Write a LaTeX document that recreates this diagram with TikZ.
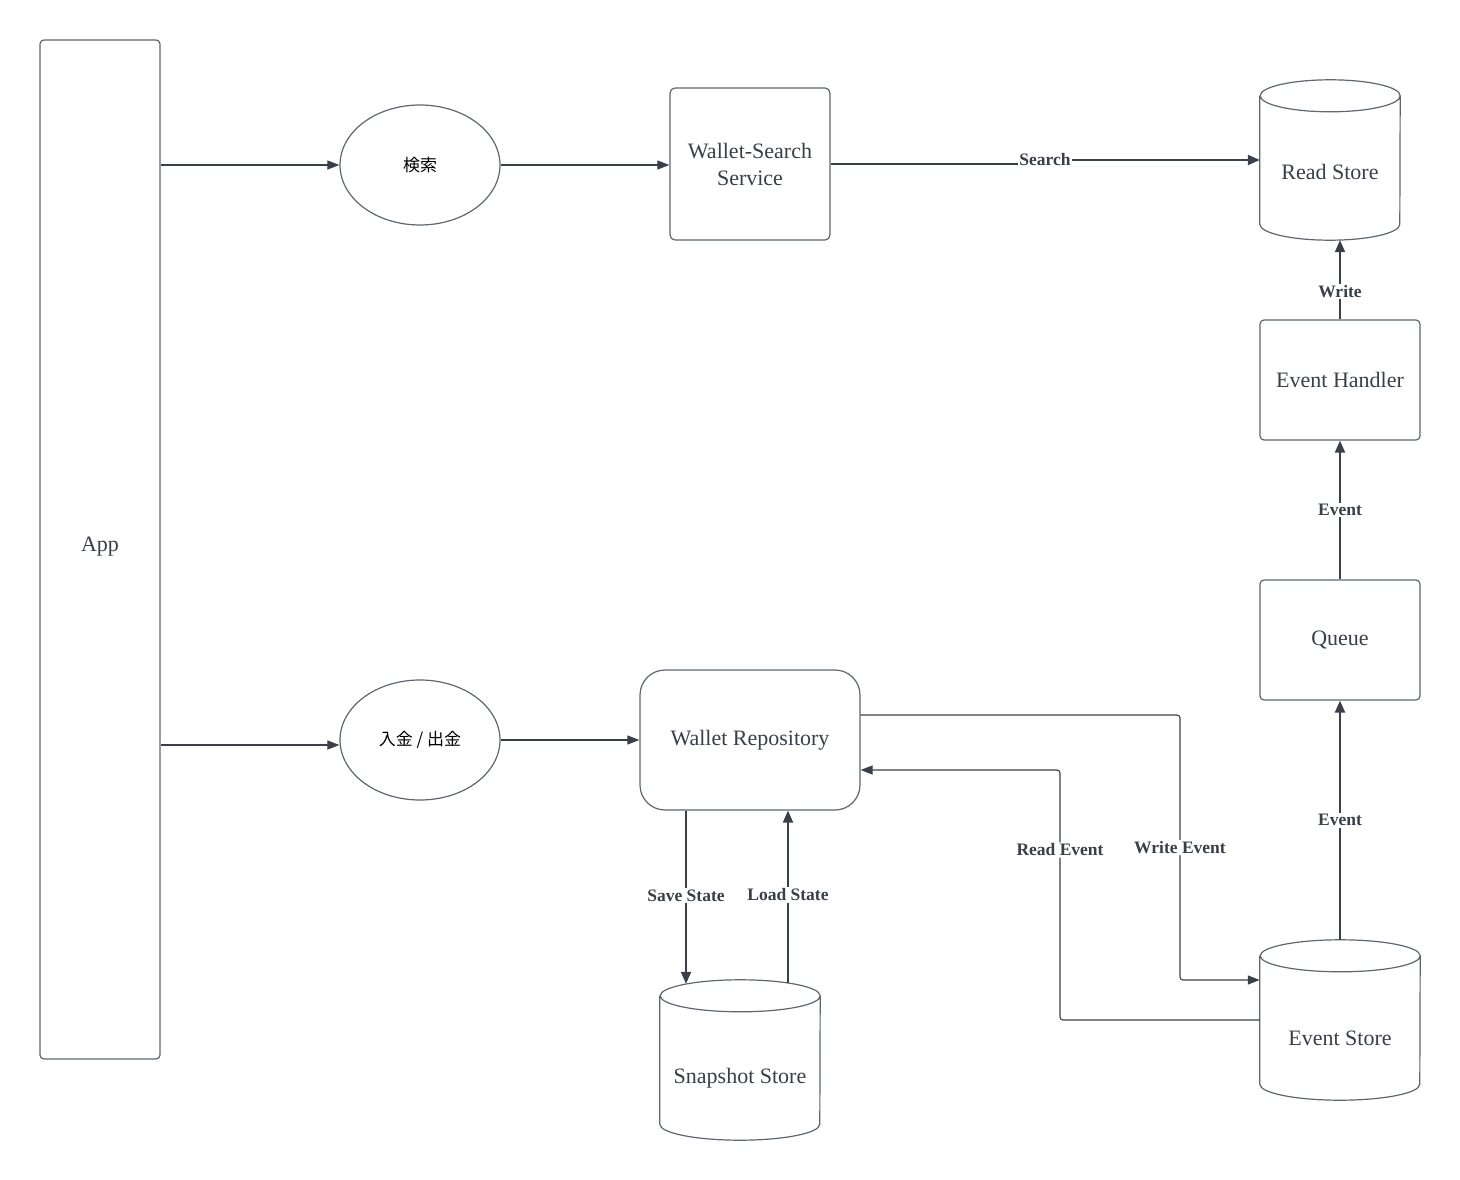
\documentclass[tikz,border=0pt]{standalone}
\usepackage{fontspec}
\setmainfont{Liberation Serif}
\newfontfamily\cjk{Noto Sans CJK JP}
\usetikzlibrary{arrows.meta,shapes.geometric,calc}
\definecolor{ln}{HTML}{3A4049}
\definecolor{bx}{HTML}{5F6670}
\definecolor{tx}{HTML}{3A3F47}
\newcommand\cylout[3]{%
  \draw[cylline] ([yshift=-#3]#1.north west) -- ([yshift=#3]#1.south west)
    arc[start angle=180,end angle=360,x radius=#2,y radius=#3]
    -- ([yshift=-#3]#1.north east)
    arc[start angle=0,end angle=180,x radius=#2,y radius=#3]
    arc[start angle=180,end angle=360,x radius=#2,y radius=#3];}
\begin{document}
\begin{tikzpicture}[x=1pt,y=-1pt,
  box/.style={draw=bx, line width=1.2pt, fill=white, inner sep=0pt,
    font=\fontsize{22}{27}\selectfont, text=tx, align=center},
  ell/.style={ellipse, draw=bx, line width=1.2pt, fill=white, inner sep=0pt,
    font=\cjk\fontsize{17}{20}\selectfont, text=black},
  cylnode/.style={inner sep=0pt},
  cylline/.style={draw=bx, line width=1.2pt, fill=white},
  cyltext/.style={font=\fontsize{22}{27}\selectfont, text=tx, inner sep=0pt},
  thinconn/.style={draw=ln, line width=1.1pt, -{Triangle[length=12pt,width=9pt]}},
  thickconn/.style={draw=ln, line width=2pt, -{Triangle[length=12pt,width=10pt]}},
  lbl/.style={fill=white, font=\bfseries\fontsize{17.5}{20}\selectfont, text=tx, inner sep=1.5pt}
]
\useasboundingbox (0,0) rectangle (1460,1180);

% nodes
\node[box, rounded corners=4pt, minimum width=120, minimum height=1019] (app) at (100,549.5) {};
\node[cyltext] (appt) at (100,547) {App};
\node[ell, minimum width=160, minimum height=120] (srch) at (420,165) {検索};
\node[box, rounded corners=5pt, minimum width=160, minimum height=152] (wss) at (750,164) {Wallet-Search\\Service};
\node[cylnode, minimum width=140, minimum height=160] (rs) at (1330,160) {};
\cylout{rs}{70pt}{16pt}
\node[cyltext] (rst) at (1330,172) {Read Store};
\node[box, rounded corners=4pt, minimum width=160, minimum height=120] (eh) at (1340,380) {Event Handler};
\node[box, rounded corners=4pt, minimum width=160, minimum height=120] (q) at (1340,640) {Queue};
\node[ell, minimum width=160, minimum height=120] (dep) at (420,740) {入金 / 出金};
\node[box, rounded corners=25pt, minimum width=220, minimum height=140] (wr) at (750,740) {Wallet Repository};
\node[cylnode, minimum width=160, minimum height=160] (ss) at (740,1060) {};
\cylout{ss}{80pt}{16pt}
\node[cyltext] (sst) at (740,1078) {Snapshot Store};
\node[cylnode, minimum width=160, minimum height=160] (es) at (1340,1020) {};
\cylout{es}{80pt}{16pt}
\node[cyltext] (est) at (1340,1038) {Event Store};

% connectors
\draw[thinconn] (app.east |- srch.west) -- (srch.west);
\draw[thinconn] (srch.east) -- (wss.west |- srch.east);
\draw[thickconn] (wss.east) -- (1045,164) -- (1045,160) node[lbl] {Search} -- (rs.west);
\draw[thickconn] (eh.north) -- node[lbl, pos=0.35] {Write} (eh.north |- rs.south);
\draw[thickconn] (q.north) -- node[lbl] {Event} (eh.south);
\draw[thickconn] (es.north) -- node[lbl] {Event} (q.south);
\draw[thinconn] ($(app.east |- dep.west)+(0,5)$) -- ($(dep.west)+(0,5)$);
\draw[thinconn] (dep.east) -- (wr.west);
\draw[thinconn, rounded corners=3pt] ($(wr.east)+(0,-25)$) -- (1180,715) -- node[lbl] {Write Event} (1180,980) -- ($(es.west)+(0,-40)$);
\draw[thinconn, rounded corners=3pt] (es.west) -- (1060,1020) -- node[lbl, pos=0.68] {Read Event} (1060,770) -- ($(wr.east)+(0,30)$);
\draw[thickconn] ($(wr.south)+(-64,0)$) -- node[lbl, pos=0.49] {Save State} ($(ss.north)+(-54,4)$);
\draw[thickconn] ($(ss.north)+(48,3)$) -- node[lbl, pos=0.51] {Load State} ($(wr.south)+(38,0)$);
\end{tikzpicture}
\end{document}
